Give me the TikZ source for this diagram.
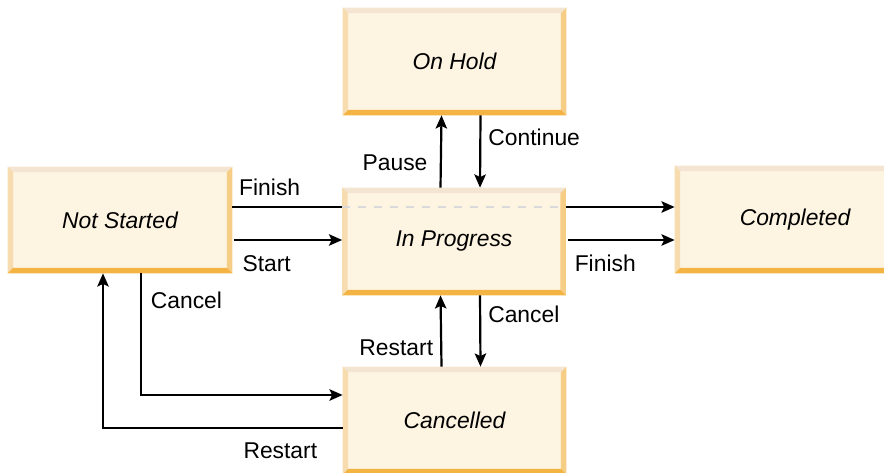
\documentclass[tikz,border=0pt]{standalone}
\usepackage{fontspec}
\setmainfont{Liberation Sans}
\usetikzlibrary{arrows.meta}

\definecolor{boxfill}{HTML}{FEF4E2}
\definecolor{bevtop}{HTML}{F3E5D2}
\definecolor{bevleft}{HTML}{F6DCAF}
\definecolor{bevright}{HTML}{F6CD85}
\definecolor{bevbottom}{HTML}{F4B443}
\definecolor{dashgray}{HTML}{D9D9D9}

\begin{document}
\begin{tikzpicture}[
    state/.style={fill=boxfill, minimum width=4.46cm, minimum height=2.14cm, inner sep=0pt, font=\fontsize{13}{15}\selectfont\itshape},
    lbl/.style={font=\fontsize{13}{15}\selectfont, inner sep=2pt},
    flow/.style={line width=1.25pt, -{Stealth[length=7.5pt, width=6.5pt, inset=1.5pt]}},
    plain/.style={line width=1.25pt}
]
    \useasboundingbox (0,0) rectangle (17.68,9.44);

    % States
    \node[state] (hold) at (9.09,8.21) {On Hold};
    \node[state, minimum width=4.48cm, minimum height=2.12cm] (notstarted) at (2.40,5.04) {Not Started};
    \node[state] (progress) at (9.08,4.61) {In Progress};
    \node[state, minimum width=4.8cm] (done) at (15.90,5.05) {Completed};
    \node[state] (cancelled) at (9.09,1.03) {Cancelled};

    % Bevelled edges
    \foreach \s in {hold,notstarted,progress,done,cancelled} {
        \fill[bevtop] (\s.north west) -- (\s.north east) -- ([shift={(-0.11,-0.11)}]\s.north east) -- ([shift={(0.11,-0.11)}]\s.north west) -- cycle;
        \fill[bevleft] (\s.north west) -- ([shift={(0.11,-0.11)}]\s.north west) -- ([shift={(0.11,0.11)}]\s.south west) -- (\s.south west) -- cycle;
        \fill[bevright] (\s.north east) -- ([shift={(-0.11,-0.11)}]\s.north east) -- ([shift={(-0.11,0.11)}]\s.south east) -- (\s.south east) -- cycle;
        \fill[bevbottom] (\s.south west) -- ([shift={(0.11,0.11)}]\s.south west) -- ([shift={(-0.11,0.11)}]\s.south east) -- (\s.south east) -- cycle;
    }

    % Finish passing behind In Progress
    \draw[plain] ([yshift=2.6mm]notstarted.east) -- ([yshift=2.6mm]notstarted.east -| progress.west)
        node[lbl, pos=0.34, above=4pt] {Finish};
    \draw[dashgray, line width=1.4pt, dash pattern=on 0.16cm off 0.16cm] ([yshift=2.6mm]notstarted.east -| progress.west) -- ([yshift=2.6mm]notstarted.east -| progress.east);
    \draw[flow] ([yshift=2.6mm]notstarted.east -| progress.east) -- ([yshift=2.6mm]notstarted.east -| done.west);

    % Start and Finish
    \draw[flow] ([shift={(0.04,-4mm)}]notstarted.east) -- ([yshift=-4mm]notstarted.east -| progress.west)
        node[lbl, pos=0.30, below=6pt] {Start};
    \draw[flow] ([shift={(0.04,-4mm)}]notstarted.east -| progress.east) -- ([yshift=-4mm]notstarted.east -| done.west)
        node[lbl, pos=0.35, below=6pt] {Finish};

    % Pause and Continue
    \draw[flow] ([xshift=-2.7mm]progress.north) -- ([xshift=-2.6mm]hold.south)
        node[lbl, pos=0.34, left=5pt] {Pause};
    \draw[flow] ([xshift=5.2mm]hold.south) -- ([xshift=5.2mm]progress.north)
        node[lbl, pos=0.30, right=2pt] {Continue};

    % Restart and Cancel
    \draw[flow] ([xshift=-2.6mm]cancelled.north) -- ([xshift=-2.7mm]progress.south)
        node[lbl, pos=0.26, left=2pt] {Restart};
    \draw[flow] ([xshift=5.2mm]progress.south) -- ([xshift=5.2mm]cancelled.north)
        node[lbl, pos=0.26, right=2pt] {Cancel};

    % Around the left
    \draw[flow] ([xshift=4.2mm]notstarted.south) |- ([yshift=5.1mm]cancelled.west)
        node[lbl, pos=0.11, right=3pt] {Cancel};
    \draw[flow] ([yshift=-1.5mm]cancelled.west) -| ([xshift=-3.4mm]notstarted.south)
        node[lbl, pos=0.13, below=6pt] {Restart};

\end{tikzpicture}
\end{document}
